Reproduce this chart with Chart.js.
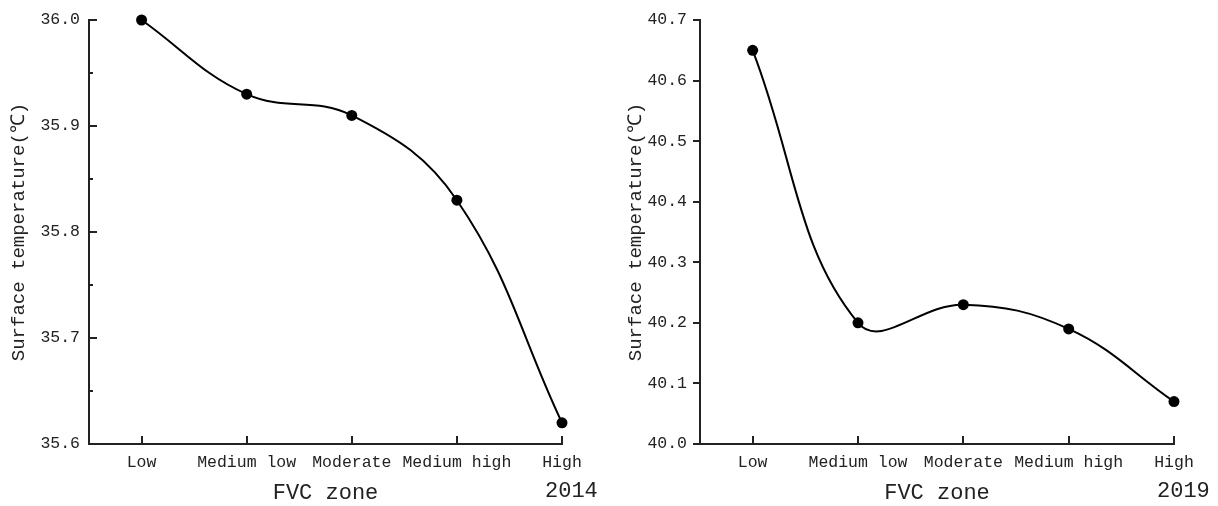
<!DOCTYPE html>
<html>
<head>
<meta charset="utf-8">
<script src="https://cdn.jsdelivr.net/npm/chart.js@4/dist/chart.umd.min.js"></script>
<style>
  html, body { margin: 0; padding: 0; background: #fff; }
  #wrap { width: 1218px; height: 506px; display: flex; }
  canvas { display: block; }
</style>
</head>
<body>
<div id="wrap">
  <canvas id="c2014" width="609" height="506"></canvas>
  <canvas id="c2019" width="609" height="506"></canvas>
</div>
<script>
const categories = ['Low', 'Medium low', 'Moderate', 'Medium high', 'High'];
const temp2014 = [36.00, 35.93, 35.91, 35.83, 35.62];
const temp2019 = [40.65, 40.20, 40.23, 40.19, 40.07];
const yTicks2014 = [35.6, 35.7, 35.8, 35.9, 36.0];
const yTicks2019 = [40.0, 40.1, 40.2, 40.3, 40.4, 40.5, 40.6, 40.7];
const yTitle = 'Surface temperature(℃)';
const xTitle = 'FVC zone';

Chart.defaults.font.family = "'Liberation Mono', 'DejaVu Sans Mono', monospace";
Chart.defaults.color = '#222';

const axesPlugin = {
  id: 'axesPlugin',
  beforeDatasetsDraw(chart, args, opts) {
    const { ctx, chartArea: { left, right, top, bottom }, scales: { x, y } } = chart;
    ctx.save();
    ctx.strokeStyle = '#222';
    ctx.lineWidth = 2;
    ctx.lineCap = 'butt';
    ctx.beginPath();
    ctx.moveTo(left, top - 1);
    ctx.lineTo(left, bottom);
    ctx.lineTo(right + 1, bottom);
    ctx.stroke();
    ctx.beginPath();
    x.ticks.forEach(t => {
      const px = Math.round(x.getPixelForValue(t.value));
      ctx.moveTo(px, bottom);
      ctx.lineTo(px, bottom - 8);
    });
    y.ticks.forEach((t, i) => {
      const py = Math.round(y.getPixelForValue(t.value));
      if (opts.inward) { ctx.moveTo(left, py); ctx.lineTo(left + 8, py); }
      else { ctx.moveTo(left - 7, py); ctx.lineTo(left, py); }
      if (opts.minor && i < y.ticks.length - 1) {
        const mid = (t.value + y.ticks[i + 1].value) / 2;
        const pm = Math.round(y.getPixelForValue(mid));
        ctx.moveTo(left, pm); ctx.lineTo(left + 4, pm);
      }
    });
    ctx.stroke();
    ctx.restore();
  },
  afterDraw(chart, args, opts) {
    const { ctx, chartArea: { right } } = chart;
    ctx.save();
    ctx.fillStyle = '#222';
    ctx.font = "22px 'Liberation Mono', monospace";
    ctx.textAlign = 'left';
    ctx.textBaseline = 'alphabetic';
    ctx.fillText(opts.year, right - 17, 497);
    ctx.restore();
  }
};

function makeChart(id, values, yTicks, o) {
  const pts = values.map((v, i) => ({ x: i, y: v }));
  return new Chart(document.getElementById(id), {
    type: 'line',
    data: {
      datasets: [{
        data: pts,
        borderColor: '#000',
        borderWidth: 2,
        tension: 0.4,
        pointRadius: 5.5,
        pointBackgroundColor: '#000',
        pointBorderWidth: 0,
        pointHoverRadius: 5.5,
        clip: false
      }]
    },
    options: {
      responsive: false,
      animation: false,
      events: [],
      layout: { padding: { top: 20, right: o.padRight, left: 0, bottom: 0 } },
      plugins: {
        legend: { display: false },
        tooltip: { enabled: false },
        axesPlugin: { inward: o.inward, minor: o.minor, year: o.year }
      },
      scales: {
        x: {
          type: 'linear',
          min: -0.5,
          max: categories.length - 1,
          afterBuildTicks(scale) { scale.ticks = categories.map((c, i) => ({ value: i })); },
          afterFit(scale) { scale.height = 62; },
          grid: { display: false, drawTicks: false },
          border: { display: false },
          ticks: {
            padding: 9,
            maxRotation: 0,
            autoSkip: false,
            font: { size: 16.5 },
            color: '#222',
            callback: (v) => categories[v]
          },
          title: {
            display: true,
            text: xTitle,
            font: { size: 22 },
            color: '#222',
            padding: { top: 0, bottom: 0 }
          }
        },
        y: {
          type: 'linear',
          min: yTicks[0],
          max: yTicks[yTicks.length - 1],
          afterBuildTicks(scale) { scale.ticks = yTicks.map(v => ({ value: v })); },
          afterFit(scale) { scale.width = o.yWidth; scale.paddingTop = 0; scale.paddingBottom = 0; },
          grid: { display: false, drawTicks: false },
          border: { display: false },
          ticks: {
            padding: o.tickPad,
            font: { size: 16.5 },
            color: '#222',
            callback: (v) => Number(v).toFixed(1)
          },
          title: {
            display: true,
            text: yTitle,
            font: { size: 19 },
            color: '#222',
            padding: { top: o.titlePad, bottom: 0 }
          }
        }
      }
    },
    plugins: [axesPlugin]
  });
}

makeChart('c2014', temp2014, yTicks2014, { padRight: 47, yWidth: 89, tickPad: 9, titlePad: 8, inward: true, minor: true, year: '2014' });
makeChart('c2019', temp2019, yTicks2019, { padRight: 44, yWidth: 91, tickPad: 13, titlePad: 16, inward: false, minor: false, year: '2019' });
</script>
</body>
</html>
